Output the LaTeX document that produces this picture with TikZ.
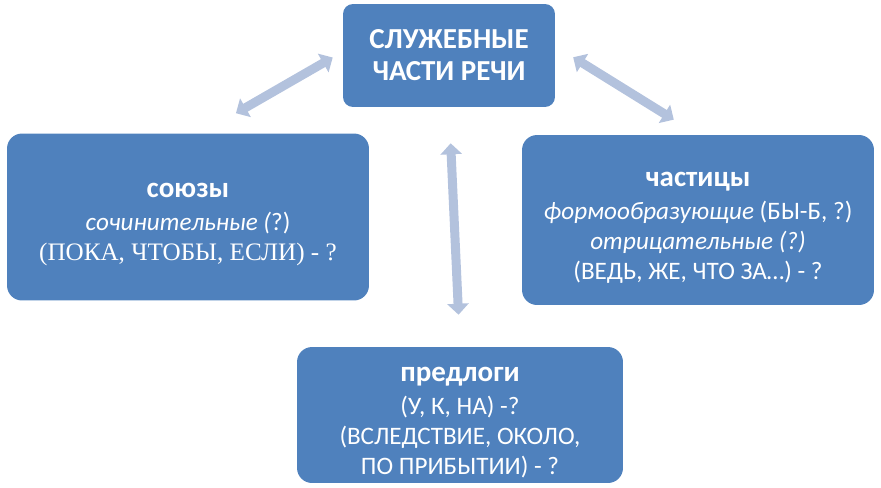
\documentclass[tikz,border=0pt]{standalone}
\usepackage{fontspec}
\setmainfont{Carlito}
\newfontfamily\timesfont{Liberation Serif}
\usetikzlibrary{arrows.meta}
\definecolor{partblue}{RGB}{79,129,189}
\definecolor{linkblue}{RGB}{179,194,221}
\newcommand\speechpart[1]{{\fontsize{16.5}{17.1}\selectfont\bfseries\rule{0pt}{17.2pt}#1}\\[1.7pt]}

\begin{document}
\begin{tikzpicture}[x=0.02cm,y=-0.02cm]
	\tikzstyle{part} = [rectangle, fill=partblue, text=white, align=center, inner sep=0pt, rounded corners=0.3cm, font=\fontsize{14.3}{17.1}\selectfont]
	\tikzstyle{link} = [{Triangle[width=0.42cm,length=0.22cm]}-{Triangle[width=0.42cm,length=0.22cm]}, line width=0.18cm, linkblue]
	
	\useasboundingbox (0,0) rectangle (881,487);
	
	\node[part, minimum width=4.24cm, minimum height=2.06cm, rounded corners=0.2cm, font=\fontsize{16.5}{18.2}\selectfont\bfseries](top) at (449,55.5) {СЛУЖЕБНЫЕ\\ЧАСТИ РЕЧИ};
	
	\node[part, minimum width=7.24cm, minimum height=3.34cm](left) at (188,217) {\speechpart{союзы}
		\textit{сочинительные (}?)\\
		{\timesfont (ПОКА, ЧТОБЫ, ЕСЛИ) - ?}};
	
	\node[part, minimum width=7.04cm, minimum height=3.4cm](right) at (698,220) {\speechpart{частицы}
		\textit{формообразующие} (БЫ-Б, ?)\\
		\textit{отрицательные (?)}\\
		(ВЕДЬ, ЖЕ, ЧТО ЗА…) - ?};
	
	\node[part, minimum width=6.52cm, minimum height=2.72cm](bottom) at (460,415) {\speechpart{предлоги}
		(У, К, НА) -?\\
		(ВСЛЕДСТВИЕ, ОКОЛО,\\
		ПО ПРИБЫТИИ) - ?};
	
	\draw[link, shorten <=0.23cm, shorten >=0.8cm] (top.178) -- (left.81);
	\draw[link, shorten <=0.42cm, shorten >=0.57cm] (top.5) -- (right.north);
	\draw[link, shorten <=0.72cm, shorten >=0.64cm] (top.south) -- (bottom.north);
\end{tikzpicture}
\end{document}
